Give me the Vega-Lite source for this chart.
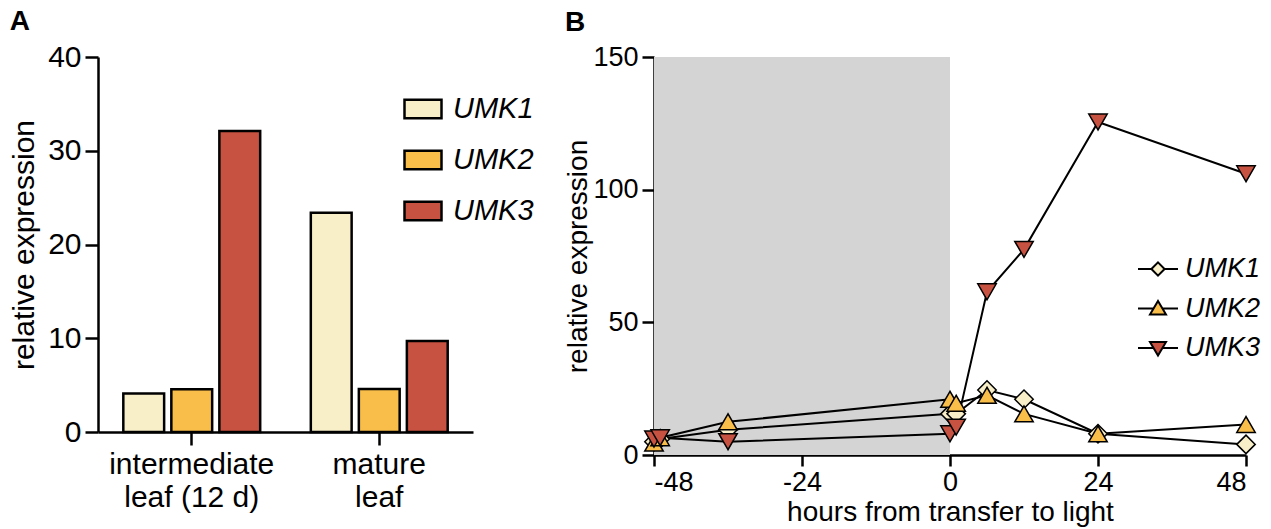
{
  "$schema": "https://vega.github.io/schema/vega-lite/v6.json",
  "padding": {"left": 9, "top": 8, "right": 5, "bottom": 5},
  "background": "white",
  "config": {
    "font": "Liberation Sans",
    "view": {"stroke": null},
    "axis": {
      "grid": false,
      "domainColor": "black",
      "domainWidth": 2.5,
      "tickColor": "black",
      "tickWidth": 2.5,
      "tickSize": 12,
      "labelColor": "black",
      "labelPadding": 4,
      "titleColor": "black",
      "titleFontWeight": "normal",
      "titlePadding": 8
    },
    "legend": {
      "labelColor": "black",
      "labelFontStyle": "italic",
      "padding": 0
    },
    "title": {"fontSize": 28, "fontWeight": "bold", "anchor": "start", "color": "black", "offset": 6}
  },
  "spacing": 30,
  "resolve": {"scale": {"fill": "independent"}, "legend": {"fill": "independent"}},
  "hconcat": [
    {
      "title": {"text": "A"},
      "width": 375,
      "height": 375,
      "data": {
        "values": [
          {"tissue": "intermediate leaf (12 d)", "gene": "UMK1", "value": 4.1},
          {"tissue": "intermediate leaf (12 d)", "gene": "UMK2", "value": 4.55},
          {"tissue": "intermediate leaf (12 d)", "gene": "UMK3", "value": 32.1},
          {"tissue": "mature leaf", "gene": "UMK1", "value": 23.4},
          {"tissue": "mature leaf", "gene": "UMK2", "value": 4.6},
          {"tissue": "mature leaf", "gene": "UMK3", "value": 9.7}
        ]
      },
      "mark": {"type": "bar", "stroke": "black", "strokeWidth": 2.5},
      "encoding": {
        "x": {
          "field": "tissue",
          "type": "nominal",
          "sort": ["intermediate leaf (12 d)", "mature leaf"],
          "scale": {"paddingInner": 0.27, "paddingOuter": 0.135},
          "axis": {
            "title": null,
            "labelAngle": 0,
            "tickSize": 13,
            "labelPadding": 4,
            "labelFontSize": 30,
            "labelLineHeight": 33,
            "labelExpr": "datum.value == 'mature leaf' ? ['mature', 'leaf'] : ['intermediate', 'leaf (12 d)']"
          }
        },
        "xOffset": {
          "field": "gene",
          "type": "nominal",
          "scale": {"paddingInner": 0.15, "paddingOuter": 0}
        },
        "y": {
          "field": "value",
          "type": "quantitative",
          "scale": {"domain": [0, 40], "nice": false},
          "axis": {"values": [0, 10, 20, 30, 40], "title": "relative expression", "tickSize": 13,
            "labelFontSize": 30, "titleFontSize": 30}
        },
        "fill": {
          "field": "gene",
          "type": "nominal",
          "scale": {"domain": ["UMK1", "UMK2", "UMK3"], "range": ["#f8efc8", "#f9bd4a", "#c85241"]},
          "legend": {
            "title": null,
            "orient": "none",
            "legendX": 305,
            "legendY": 32,
            "symbolType": "M-1,-0.5H1V0.5H-1Z",
            "symbolSize": 1369,
            "symbolStrokeColor": "black",
            "symbolStrokeWidth": 2.5,
            "symbolOpacity": 1,
            "labelFontSize": 29,
            "labelOffset": 10,
            "rowPadding": 16
          }
        }
      }
    },
    {
      "title": {"text": "B"},
      "width": 592,
      "height": 398,
      "layer": [
        {
          "data": {"values": [{"start": -48, "end": 0, "low": 0, "high": 150}]},
          "mark": {"type": "rect", "color": "#d4d4d4"},
          "encoding": {
            "x": {"field": "start", "type": "quantitative", "scale": {"domain": [-48, 48], "nice": false},
              "axis": {"values": [-48, -24, 0, 24, 48], "title": "hours from transfer to light", "tickSize": 11,
                "labelExpr": "'' + datum.value",
                "labelPadding": 3, "titlePadding": 3, "labelFontSize": 27, "titleFontSize": 28}},
            "x2": {"field": "end"},
            "y": {"field": "low", "type": "quantitative", "scale": {"domain": [0, 150], "nice": false},
              "axis": {"values": [0, 50, 100, 150], "title": "relative expression", "titlePadding": 0,
                "labelFontSize": 27, "titleFontSize": 28}},
            "y2": {"field": "high"}
          }
        },
        {
          "data": {"name": "timecourse"},
          "mark": {"type": "line", "stroke": "black", "strokeWidth": 2},
          "encoding": {
            "x": {"field": "hour", "type": "quantitative"},
            "y": {"field": "value", "type": "quantitative"},
            "detail": {"field": "gene"},
            "order": {"field": "hour"}
          }
        },
        {
          "data": {"name": "timecourse"},
          "mark": {"type": "point", "filled": true, "opacity": 1, "stroke": "black", "strokeWidth": 1.5, "size": 340},
          "encoding": {
            "x": {"field": "hour", "type": "quantitative"},
            "y": {"field": "value", "type": "quantitative"},
            "shape": {"field": "gene", "type": "nominal",
              "scale": {"domain": ["UMK1", "UMK2", "UMK3"], "range": ["diamond", "triangle-up", "triangle-down"]}, "legend": null},
            "fill": {"field": "gene", "type": "nominal",
              "scale": {"domain": ["UMK1", "UMK2", "UMK3"], "range": ["#f8efc8", "#f9bd4a", "#c85241"]},
              "legend": {
                "title": null,
                "orient": "none",
                "legendX": 483,
                "legendY": 191,
                "symbolSize": 1600,
                "symbolStrokeColor": "black",
                "symbolStrokeWidth": 2,
                "symbolOpacity": 1,
                "labelFontSize": 27,
                "labelOffset": 6,
                "rowPadding": 5.5,
                "encode": {
                  "symbols": {
                    "update": {
                      "shape": {"signal": "datum.value == 'UMK1' ? 'M-1,0H-0.33M0.33,0H1M0,-0.33L0.33,0L0,0.33L-0.33,0Z' : datum.value == 'UMK2' ? 'M-1,0H-0.224M0.224,0H1M0,-0.38L0.4,0.3L-0.4,0.3Z' : 'M-1,0H-0.224M0.224,0H1M0,0.38L0.4,-0.3L-0.4,-0.3Z'"},
                      "stroke": {"value": "black"},
                      "strokeWidth": {"value": 2},
                      "size": {"value": 1600}
                    }
                  }
                }
              }
            }
          }
        }
      ]
    }
  ],
  "datasets": {
    "timecourse": [
      {"gene": "UMK1", "hour": -48, "value": 5},
      {"gene": "UMK1", "hour": -47, "value": 6},
      {"gene": "UMK1", "hour": -36, "value": 9.5},
      {"gene": "UMK1", "hour": 0, "value": 15.5},
      {"gene": "UMK1", "hour": 1, "value": 15.5},
      {"gene": "UMK1", "hour": 6, "value": 24.5},
      {"gene": "UMK1", "hour": 12, "value": 21},
      {"gene": "UMK1", "hour": 24, "value": 8},
      {"gene": "UMK1", "hour": 48, "value": 4},
      {"gene": "UMK2", "hour": -48, "value": 4.5},
      {"gene": "UMK2", "hour": -47, "value": 6.5},
      {"gene": "UMK2", "hour": -36, "value": 12.5},
      {"gene": "UMK2", "hour": 0, "value": 21},
      {"gene": "UMK2", "hour": 1, "value": 19.5},
      {"gene": "UMK2", "hour": 6, "value": 22.5},
      {"gene": "UMK2", "hour": 12, "value": 15.5},
      {"gene": "UMK2", "hour": 24, "value": 8},
      {"gene": "UMK2", "hour": 48, "value": 11.5},
      {"gene": "UMK3", "hour": -48, "value": 6},
      {"gene": "UMK3", "hour": -47, "value": 6.5},
      {"gene": "UMK3", "hour": -36, "value": 5},
      {"gene": "UMK3", "hour": 0, "value": 8},
      {"gene": "UMK3", "hour": 1, "value": 10.5},
      {"gene": "UMK3", "hour": 6, "value": 61.5},
      {"gene": "UMK3", "hour": 12, "value": 77.5},
      {"gene": "UMK3", "hour": 24, "value": 125.5},
      {"gene": "UMK3", "hour": 48, "value": 106}
    ]
  }
}
